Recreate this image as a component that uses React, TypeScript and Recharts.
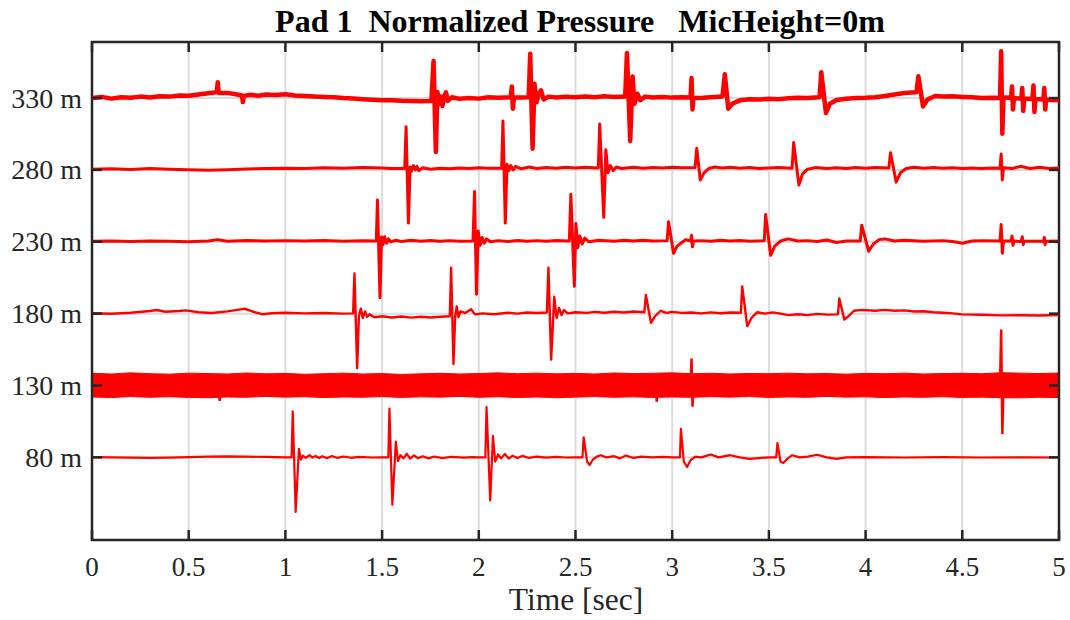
import { ComposedChart, Line, Area, XAxis, YAxis, CartesianGrid, ReferenceArea } from "recharts";

// the page only holds this chart: drop the default body margin so it fills 1070x620
if (typeof document !== "undefined") document.body.style.margin = "0";

// mic distances (m) used as y offsets, and time ticks (sec)
const DIST_TICKS = [80, 130, 180, 230, 280, 330];
const TIME_TICKS = [0, 0.5, 1, 1.5, 2, 2.5, 3, 3.5, 4, 4.5, 5];

// [time, offset pressure]
const trace330: [number, number][] = [
  [0, 330], [0.05, 330.8], [0.1, 329.6], [0.15, 330.5], [0.2, 330.2], [0.25, 331], [0.3, 330.4],
  [0.35, 331.3], [0.4, 331], [0.45, 331.8], [0.5, 331.6], [0.55, 332.5], [0.6, 333.4], [0.645, 334],
  [0.65, 341], [0.655, 333.5], [0.7, 333.6], [0.75, 332.5], [0.775, 331.8], [0.78, 327.2], [0.785, 331.5],
  [0.82, 332.3], [0.86, 331.6], [0.9, 332.5], [0.95, 332.2], [1.0, 332.6], [1.05, 331.8], [1.1, 331.5],
  [1.15, 331], [1.2, 330.8], [1.25, 330.6], [1.3, 330], [1.35, 329.7], [1.4, 329.2], [1.45, 328.8],
  [1.5, 328.4], [1.55, 328.5], [1.6, 328.1], [1.65, 328], [1.7, 327.7], [1.755, 328], [1.766, 355.7],
  [1.778, 292.5], [1.786, 334.2], [1.795, 326], [1.805, 331], [1.812, 324.5], [1.822, 331.5], [1.83, 334],
  [1.84, 328], [1.86, 330.5], [1.9, 329.5], [1.95, 330], [2.0, 329.6], [2.05, 330.5], [2.1, 330.2],
  [2.165, 330.5], [2.171, 338.1], [2.176, 322.6], [2.182, 330.5], [2.22, 330.4], [2.258, 330.6],
  [2.266, 360.9], [2.278, 294.8], [2.288, 340], [2.298, 327], [2.31, 333], [2.322, 335.4], [2.335, 329],
  [2.36, 331], [2.4, 330.4], [2.45, 330.9], [2.5, 330.5], [2.55, 331], [2.6, 330.6], [2.65, 331.2],
  [2.7, 330.8], [2.757, 331], [2.766, 361.3], [2.783, 300.1], [2.795, 345], [2.805, 326], [2.82, 333],
  [2.835, 328.5], [2.86, 331], [2.9, 330.4], [2.95, 330.8], [3.0, 330.3], [3.05, 330.6], [3.095, 330.4],
  [3.1, 343.9], [3.105, 322.1], [3.11, 330], [3.16, 330.2], [3.2, 330.5], [3.26, 331], [3.272, 346.5],
  [3.29, 322.6], [3.31, 326], [3.35, 328.4], [3.4, 329.2], [3.45, 329], [3.5, 329.5], [3.55, 329.2],
  [3.6, 329.8], [3.65, 330.2], [3.7, 330], [3.762, 330.5], [3.771, 348], [3.795, 319.6], [3.815, 326],
  [3.85, 328.6], [3.9, 329.5], [3.95, 330], [4.0, 330.2], [4.05, 330.6], [4.1, 331.5], [4.15, 332.5],
  [4.2, 333.5], [4.263, 334], [4.273, 345.1], [4.297, 324.2], [4.32, 329], [4.36, 331.4], [4.4, 331],
  [4.45, 331.2], [4.5, 330.8], [4.55, 330.5], [4.6, 330], [4.65, 330.2], [4.695, 330], [4.701, 362.5],
  [4.707, 305.2], [4.713, 330.5], [4.752, 330], [4.757, 338], [4.762, 322], [4.767, 330], [4.805, 329.5],
  [4.81, 337], [4.815, 321], [4.82, 329.5], [4.863, 329.5], [4.868, 338.8], [4.873, 320.3], [4.878, 329.3],
  [4.919, 329], [4.924, 337], [4.929, 322], [4.934, 329], [4.97, 328.6], [5, 328.5],
];

const trace280: [number, number][] = [
  [0, 280.4], [0.1, 280.8], [0.2, 280.3], [0.3, 280.9], [0.4, 280.5], [0.5, 280.2], [0.6, 279.8],
  [0.7, 280.2], [0.8, 280.6], [0.9, 281], [1.0, 281.2], [1.1, 281], [1.2, 281.5], [1.3, 281.2],
  [1.4, 281.6], [1.5, 281.3], [1.55, 281], [1.617, 281], [1.624, 310], [1.636, 243], [1.645, 282],
  [1.652, 279], [1.662, 283], [1.672, 280], [1.68, 282.5], [1.69, 279.5], [1.71, 281.5], [1.75, 280.5],
  [1.8, 281.2], [1.85, 280.8], [1.9, 281.4], [1.95, 281], [2.0, 281.5], [2.05, 281.2], [2.118, 281.2],
  [2.125, 314], [2.137, 243], [2.146, 284], [2.155, 279.5], [2.165, 283], [2.178, 280], [2.19, 282.5],
  [2.22, 280.8], [2.26, 282], [2.3, 281], [2.35, 281.6], [2.4, 281.2], [2.45, 281.8], [2.5, 281.4],
  [2.55, 281.8], [2.618, 281.4], [2.625, 312], [2.646, 247], [2.657, 294], [2.668, 278], [2.68, 283],
  [2.695, 279.5], [2.71, 282], [2.74, 281], [2.8, 281.8], [2.85, 281.2], [2.9, 281.6], [2.95, 281.3],
  [3.0, 281.8], [3.05, 281.5], [3.118, 281.6], [3.127, 295], [3.145, 273], [3.165, 278], [3.19, 281],
  [3.22, 282], [3.26, 281.3], [3.3, 281.8], [3.35, 281.2], [3.4, 281.6], [3.45, 281], [3.5, 281.4],
  [3.55, 281.6], [3.62, 281.2], [3.628, 299], [3.655, 269.5], [3.675, 277.5], [3.7, 280.5], [3.74, 281.6],
  [3.8, 281], [3.85, 281.5], [3.9, 281], [3.95, 281.6], [4.0, 281.2], [4.05, 281.6], [4.12, 281.3],
  [4.129, 292], [4.158, 271.5], [4.18, 278], [4.21, 281], [4.25, 281.8], [4.3, 281.2], [4.35, 281.6],
  [4.4, 281.2], [4.45, 281.5], [4.5, 281], [4.55, 281.3], [4.6, 281], [4.65, 281.4], [4.695, 281.2],
  [4.701, 291], [4.707, 273], [4.713, 281.5], [4.76, 281], [4.8, 282.5], [4.85, 281], [4.9, 281.8],
  [4.95, 281], [5, 281.3],
];

const trace230: [number, number][] = [
  [0, 230.3], [0.1, 230.6], [0.2, 230.2], [0.3, 230.5], [0.4, 230.3], [0.5, 230.1], [0.6, 230.6],
  [0.65, 231.5], [0.7, 230.4], [0.8, 230.9], [0.9, 230.5], [1.0, 230.8], [1.1, 230.5], [1.2, 230.9],
  [1.3, 230.4], [1.4, 230.7], [1.47, 230.5], [1.476, 259], [1.489, 191], [1.497, 233.4], [1.505, 228],
  [1.513, 233.5], [1.523, 229], [1.533, 232], [1.545, 230], [1.57, 231], [1.6, 230.2], [1.65, 231],
  [1.7, 230.4], [1.75, 230.9], [1.8, 230.3], [1.85, 230.8], [1.9, 230.4], [1.97, 230.6], [1.978, 265],
  [1.988, 193.5], [1.997, 237.5], [2.007, 227.5], [2.017, 233], [2.028, 229], [2.04, 232], [2.06, 230],
  [2.1, 230.8], [2.15, 230.2], [2.2, 230.9], [2.25, 230.4], [2.3, 230.8], [2.35, 230.3], [2.4, 230.9],
  [2.468, 230.5], [2.476, 263], [2.494, 199], [2.502, 242.7], [2.512, 226], [2.522, 234], [2.535, 228.5],
  [2.548, 232.5], [2.57, 230], [2.62, 231], [2.7, 230.4], [2.75, 231], [2.8, 230.5], [2.85, 231],
  [2.9, 230.6], [2.974, 230.8], [2.981, 244], [3.007, 222], [3.025, 227], [3.05, 229.5], [3.07, 231.5],
  [3.095, 230.5], [3.1, 234.5], [3.105, 226.5], [3.11, 230.5], [3.15, 230.8], [3.2, 230.3], [3.25, 231],
  [3.3, 230.5], [3.35, 230.9], [3.4, 230.3], [3.476, 230.8], [3.483, 249], [3.509, 220.6], [3.53, 227],
  [3.56, 230.5], [3.6, 232], [3.65, 230.5], [3.7, 230.8], [3.75, 230.2], [3.8, 231.2], [3.85, 229.5],
  [3.9, 230.6], [3.972, 230.5], [3.98, 241.5], [4.016, 223.4], [4.04, 228.5], [4.07, 231.5], [4.1, 232],
  [4.15, 230.5], [4.2, 231], [4.3, 230.4], [4.4, 230.8], [4.45, 230.2], [4.5, 229], [4.55, 230.5],
  [4.6, 230.8], [4.695, 230.5], [4.701, 242], [4.707, 222], [4.713, 230.5], [4.752, 230.5], [4.757, 234],
  [4.762, 227.5], [4.767, 230.5], [4.805, 230.2], [4.81, 233.5], [4.815, 228], [4.82, 230.3],
  [4.92, 230.5], [4.924, 233], [4.928, 228], [4.933, 230.4], [5, 230.6],
];

const trace180: [number, number][] = [
  [0, 180.3], [0.1, 179.9], [0.2, 180.6], [0.3, 181.8], [0.334, 182.5], [0.38, 181.3], [0.45, 181.8],
  [0.486, 182.3], [0.55, 181], [0.62, 180.4], [0.7, 181.6], [0.76, 182.8], [0.789, 183.4], [0.83, 181.5],
  [0.88, 179.6], [0.93, 180.3], [1.0, 180.6], [1.1, 180.2], [1.2, 180.4], [1.3, 180], [1.35, 180.2],
  [1.357, 208], [1.371, 142], [1.38, 178], [1.39, 183.5], [1.4, 177], [1.412, 181.5], [1.422, 177.8],
  [1.435, 179.5], [1.46, 177.5], [1.5, 178.2], [1.55, 177.3], [1.6, 178], [1.65, 177.2], [1.7, 177.8],
  [1.75, 177.3], [1.8, 177.8], [1.85, 178.2], [1.857, 212], [1.869, 145], [1.878, 178], [1.886, 185],
  [1.895, 177.5], [1.905, 181.5], [1.93, 180.5], [1.96, 183], [1.98, 179.5], [2.02, 180.2], [2.08, 179.6],
  [2.15, 180.6], [2.2, 180], [2.25, 180.8], [2.3, 180.4], [2.352, 180.8], [2.36, 212], [2.374, 148],
  [2.39, 191.7], [2.402, 177], [2.415, 184], [2.428, 179], [2.44, 182.5], [2.46, 180.2], [2.5, 181],
  [2.56, 180.5], [2.6, 181.2], [2.65, 180.6], [2.7, 181.3], [2.75, 180.8], [2.8, 181.5], [2.856, 181],
  [2.864, 193], [2.89, 173.6], [2.91, 178], [2.94, 182], [2.97, 180.5], [3.0, 181.2], [3.05, 180.5],
  [3.1, 180.8], [3.15, 180.2], [3.2, 180.9], [3.25, 180.3], [3.3, 180.8], [3.355, 180.6], [3.362, 199],
  [3.388, 171.3], [3.41, 177], [3.44, 181], [3.48, 180], [3.52, 180.9], [3.56, 180], [3.6, 179],
  [3.65, 179.6], [3.7, 179], [3.75, 179.8], [3.8, 179.3], [3.857, 179.5], [3.864, 190.5], [3.89, 175.9],
  [3.91, 178], [3.94, 182], [3.98, 182.6], [4.05, 182], [4.1, 182.6], [4.15, 182], [4.2, 182.3],
  [4.25, 181.5], [4.3, 181.7], [4.35, 181], [4.4, 180.6], [4.45, 180.2], [4.5, 179.5], [4.6, 179.2],
  [4.7, 178.8], [4.8, 178.9], [4.9, 178.7], [5, 179],
];

// 130 m mic: wideband noise, envelope (low / high) plus the few outliers
const band130Time = [
  0, 0.1, 0.2, 0.3, 0.4, 0.5, 0.6, 0.7, 0.8, 0.9, 1, 1.1, 1.2, 1.3, 1.4, 1.5, 1.6, 1.7, 1.8, 1.9, 2,
  2.1, 2.2, 2.3, 2.4, 2.5, 2.6, 2.7, 2.8, 2.9, 3, 3.1, 3.2, 3.3, 3.4, 3.5, 3.6, 3.7, 3.8, 3.9, 4,
  4.1, 4.2, 4.3, 4.4, 4.5, 4.6, 4.7, 4.8, 4.9, 5,
];
const band130High = [
  138.5, 138, 138.8, 138.2, 137.9, 138.6, 138.3, 138, 138.7, 138.1, 138.4, 137.8, 138.2, 138.6, 138,
  138.3, 137.7, 138.1, 138.5, 138, 138.3, 138.8, 138.2, 138.6, 138.1, 138.4, 138, 138.7, 138.3, 138.5,
  138.8, 138.2, 138.5, 138, 138.4, 138.2, 138.6, 138.1, 138.3, 137.9, 138.4, 138.2, 138.6, 138, 138.3,
  138.5, 138.2, 138.9, 138.6, 138.3, 138.7,
];
const band130Low = [
  122, 121.6, 122.3, 121.8, 122.2, 121.7, 121.5, 122, 121.8, 122.4, 121.9, 122.2, 121.6, 122, 121.8,
  122.3, 121.7, 122.1, 121.9, 122.4, 121.8, 122.2, 121.6, 122, 121.5, 121.9, 122.3, 121.8, 122.1, 121.7,
  122, 121.8, 122.2, 121.9, 122.3, 121.7, 122, 121.8, 122.4, 121.9, 122.1, 121.6, 122, 121.8, 122.2,
  121.7, 121.9, 121.5, 121.4, 121.8, 121.6,
];
const spikes130: [number, number][] = [
  [0, 130], [0.655, 130], [0.66, 119.3], [0.665, 130], [2.915, 130], [2.92, 118.7], [2.925, 130],
  [3.095, 130], [3.1, 148.8], [3.105, 115.2], [3.11, 130], [4.695, 130], [4.701, 169], [4.707, 96.2],
  [4.713, 130], [5, 130],
];

const trace80: [number, number][] = [
  [0, 80.2], [0.1, 80], [0.2, 79.8], [0.3, 79.6], [0.4, 79.8], [0.5, 80.1], [0.6, 80.5], [0.7, 80.7],
  [0.8, 80.5], [0.9, 80.3], [1.0, 80], [1.032, 80], [1.038, 112], [1.053, 42], [1.07, 86], [1.08, 78.5],
  [1.09, 81.2], [1.105, 79.6], [1.125, 81.5], [1.14, 79.8], [1.155, 81], [1.175, 79.5], [1.19, 80.8],
  [1.215, 79.4], [1.24, 80.9], [1.27, 79.6], [1.3, 80.6], [1.34, 79.7], [1.38, 80.3], [1.45, 79.9],
  [1.5, 80], [1.532, 80], [1.538, 114], [1.553, 47], [1.571, 91], [1.582, 77.5], [1.595, 81.5],
  [1.61, 79.3], [1.628, 82.5], [1.645, 79.2], [1.665, 81.3], [1.685, 79.4], [1.71, 80.8], [1.74, 79.3],
  [1.77, 80.6], [1.81, 79.5], [1.86, 80.4], [1.92, 79.8], [1.97, 80.1], [2.0, 80], [2.034, 80],
  [2.04, 115], [2.059, 50], [2.073, 95], [2.085, 77], [2.1, 82], [2.115, 79.3], [2.135, 82.3],
  [2.155, 79.2], [2.175, 81.2], [2.2, 79.5], [2.225, 81], [2.26, 79.6], [2.3, 80.5], [2.35, 79.8],
  [2.4, 80.3], [2.45, 79.9], [2.5, 80], [2.536, 80], [2.542, 94], [2.56, 77], [2.573, 74.7],
  [2.59, 78.5], [2.61, 80.5], [2.63, 81.5], [2.66, 80], [2.7, 80.8], [2.73, 79.3], [2.76, 81.3],
  [2.8, 79.6], [2.84, 80.5], [2.9, 80], [2.95, 80.3], [3.0, 80], [3.04, 80], [3.045, 99.8], [3.06, 77],
  [3.077, 73.3], [3.095, 78], [3.12, 80.5], [3.15, 80], [3.2, 82], [3.24, 80], [3.3, 81.5], [3.35, 80],
  [3.4, 79], [3.45, 79.5], [3.5, 80], [3.538, 80], [3.544, 90], [3.56, 77], [3.575, 76], [3.595, 79],
  [3.62, 81.5], [3.66, 80], [3.7, 80.5], [3.75, 81.8], [3.8, 80], [3.85, 79], [3.9, 80], [4.0, 80.2],
  [4.2, 79.9], [4.4, 80.1], [4.6, 79.9], [4.8, 80], [5, 79.9],
];

const RED = "#ff0000";
const INK = "#262626";
const FONT = "'Liberation Serif', 'Times New Roman', serif";

const W = 1070;
const H = 620;
const PLOT_W = 967;
const PLOT_H = 498;

const toPts = (arr: [number, number][]) => arr.map(([t, v]) => ({ t, v }));
const band130 = band130Time.map((t, i) => ({ t, band: [band130Low[i], band130High[i]] }));

const XTick = (props: any) => {
  const { x, y, payload } = props;
  return (
    <g>
      <line x1={x} x2={x} y1={y} y2={y - 10} stroke={INK} strokeWidth={2.5} />
      <line x1={x} x2={x} y1={y - PLOT_H} y2={y - PLOT_H + 10} stroke={INK} strokeWidth={2.5} />
      <text x={x} y={y + 35.5} textAnchor="middle" fontFamily={FONT} fontSize={27} fill={INK}>
        {payload.value}
      </text>
    </g>
  );
};

const YTick = (props: any) => {
  const { x, y, payload } = props;
  return (
    <g>
      <line x1={x} x2={x + 10} y1={y} y2={y} stroke={INK} strokeWidth={2.5} />
      <line x1={x + PLOT_W - 10} x2={x + PLOT_W} y1={y} y2={y} stroke={INK} strokeWidth={2.5} />
      <text x={x - 10} y={y + 9.5} textAnchor="end" fontFamily={FONT} fontSize={28} fill={INK}>
        {`${payload.value} m`}
      </text>
    </g>
  );
};

export default function App() {
  return (
    <div style={{ position: "relative", width: W, height: H }}>
      <ComposedChart width={W} height={H} margin={{ top: 42, right: 11, bottom: 40, left: 16 }}>
        <CartesianGrid stroke="#dcdcdc" strokeWidth={2} />
        <XAxis
          dataKey="t"
          type="number"
          domain={[0, 5]}
          ticks={TIME_TICKS}
          allowDataOverflow
          height={40}
          tickSize={0}
          tickMargin={0}
          tickLine={false}
          axisLine={false}
          tick={<XTick />}
        />
        <YAxis
          type="number"
          domain={[22.5, 369]}
          ticks={DIST_TICKS}
          allowDataOverflow
          width={76}
          tickSize={0}
          tickMargin={0}
          tickLine={false}
          axisLine={false}
          tick={<YTick />}
        />
        <Area
          data={band130}
          dataKey="band"
          type="linear"
          stroke={RED}
          strokeWidth={1}
          fill={RED}
          fillOpacity={1}
          isAnimationActive={false}
        />
        <Line data={toPts(spikes130)} dataKey="v" type="linear" stroke={RED} strokeWidth={2.5} dot={false} isAnimationActive={false} />
        <Line data={toPts(trace80)} dataKey="v" type="linear" stroke={RED} strokeWidth={2.2} strokeLinejoin="round" dot={false} isAnimationActive={false} />
        <Line data={toPts(trace180)} dataKey="v" type="linear" stroke={RED} strokeWidth={2.4} strokeLinejoin="round" dot={false} isAnimationActive={false} />
        <Line data={toPts(trace230)} dataKey="v" type="linear" stroke={RED} strokeWidth={3} strokeLinejoin="round" dot={false} isAnimationActive={false} />
        <Line data={toPts(trace280)} dataKey="v" type="linear" stroke={RED} strokeWidth={3} strokeLinejoin="round" dot={false} isAnimationActive={false} />
        <Line data={toPts(trace330)} dataKey="v" type="linear" stroke={RED} strokeWidth={4.5} strokeLinejoin="round" dot={false} isAnimationActive={false} />
        <ReferenceArea x1={0} x2={5} y1={22.5} y2={369} fill="none" stroke={INK} strokeWidth={2.5} ifOverflow="visible" />
      </ComposedChart>
      <svg width={W} height={H} style={{ position: "absolute", left: 0, top: 0, pointerEvents: "none" }}>
        <text x={580} y={32} textAnchor="middle" fontFamily={FONT} fontSize={32} fontWeight="bold" fill="#000" style={{ whiteSpace: "pre" }}>
          {"Pad 1  Normalized Pressure   MicHeight=0m"}
        </text>
        <text x={576} y={610} textAnchor="middle" fontFamily={FONT} fontSize={31.5} fill={INK}>
          Time [sec]
        </text>
      </svg>
    </div>
  );
}
